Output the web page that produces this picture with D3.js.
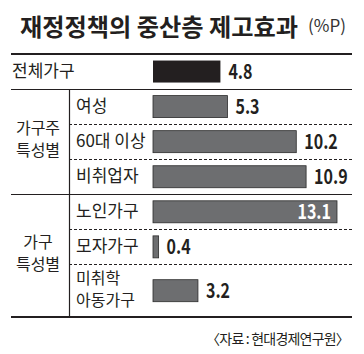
<html>
<head>
<script src="https://d3js.org/d3.v7.min.js"></script>
<style>
  body { margin: 0; background: #fff; }
  text { font-family: "Noto Sans CJK KR", "Noto Sans", sans-serif; }
</style>
</head>
<body>
<div id="chart"></div>
<script>
// data
const rows = ["전체가구", "여성", "60대 이상", "비취업자", "노인가구", "모자가구", "미취학\n아동가구"];
const values = [4.8, 5.3, 10.2, 10.9, 13.1, 0.4, 3.2];
const groups = [null, "가구주\n특성별", "가구주\n특성별", "가구주\n특성별", "가구\n특성별", "가구\n특성별", "가구\n특성별"];

const width = 364, height = 354;
const svg = d3.create("svg").attr("width", width).attr("height", height);

// title
svg.append("text").attr("x", 20).attr("y", 36)
  .attr("font-size", 24.2).attr("font-weight", "bold").attr("fill", "#231f20")
  .text("재정정책의 중산층 제고효과");
svg.append("text").attr("x", 308).attr("y", 32)
  .attr("font-family", "'Liberation Sans', Arial, sans-serif")
  .attr("font-size", 17).attr("fill", "#333")
  .text("(%P)");

// row layout: two-line labels take a bit more room
const weight = rows.map(r => r.includes("\n") ? 1.5 : 1);
const starts = [];
weight.reduce((acc, w) => { starts.push(acc); return acc + w; }, 0);
const total = d3.sum(weight);
const y = d3.scaleLinear().domain([0, total]).range([54, 317]);
const x = d3.scaleLinear().domain([0, 13.1]).range([153, 337]);
const barH = 22;

const rowData = rows.map((r, i) => ({
  label: r, value: values[i], group: groups[i],
  top: y(starts[i]), bottom: y(starts[i] + weight[i]),
  mid: (y(starts[i]) + y(starts[i] + weight[i])) / 2
}));

// separator lines
const g = svg.append("g");
rowData.forEach((d, i) => {
  if (i === 0) return;
  const sameGroup = d.group && d.group === rowData[i - 1].group;
  g.append("line")
    .attr("x1", sameGroup ? 69 : 11).attr("x2", 352)
    .attr("y1", Math.round(d.top) + 0.5).attr("y2", Math.round(d.top) + 0.5)
    .attr("stroke", "#231f20").attr("stroke-width", 1)
    .attr("stroke-dasharray", sameGroup ? "3,2" : null);
});
g.append("line").attr("x1", 11).attr("x2", 352).attr("y1", 54).attr("y2", 54)
  .attr("stroke", "#231f20").attr("stroke-width", 2.2);
g.append("line").attr("x1", 11).attr("x2", 352).attr("y1", 317).attr("y2", 317)
  .attr("stroke", "#231f20").attr("stroke-width", 2.2);
g.append("line").attr("x1", 69.5).attr("x2", 69.5)
  .attr("y1", rowData[1].top).attr("y2", 317)
  .attr("stroke", "#231f20").attr("stroke-width", 1.2);

// bars
svg.append("g").selectAll("rect").data(rowData).join("rect")
  .attr("x", x(0))
  .attr("y", d => d.mid - barH / 2)
  .attr("width", d => Math.max(x(d.value) - x(0), 3))
  .attr("height", barH)
  .attr("fill", (d, i) => i === 0 ? "#231f20" : "#6d6e70")
  .attr("stroke", (d, i) => i === 0 ? "none" : "#2b2b2b")
  .attr("stroke-width", 0.8);

// values (narrow bold digits)
svg.append("g").selectAll("text").data(rowData).join("text")
  .attr("font-family", "'Liberation Sans', Arial, sans-serif")
  .attr("font-weight", "bold").attr("font-size", 20)
  .attr("dy", "0.36em")
  .attr("transform", d => {
    const tx = d.value > 12 ? x(d.value) - 6 : Math.max(x(d.value), x(0) + 3) + 8;
    return `translate(${tx},${d.mid}) scale(0.8,1)`;
  })
  .attr("text-anchor", d => d.value > 12 ? "end" : "start")
  .attr("fill", d => d.value > 12 ? "#fff" : "#231f20")
  .text(d => d.value);

// row labels
const lab = svg.append("g");
rowData.forEach((d, i) => {
  const lines = d.label.split("\n");
  const lx = i === 0 ? 12 : 76;
  lines.forEach((l, j) => {
    lab.append("text").attr("x", lx)
      .attr("y", d.mid - 1 + (j - (lines.length - 1) / 2) * 22)
      .attr("dy", "0.36em").attr("font-size", lines.length > 1 ? 16 : 17).attr("fill", "#231f20")
      .text(l);
  });
});

// group labels
const grp = d3.groups(rowData.filter(d => d.group), d => d.group);
grp.forEach(([name, items]) => {
  const top = items[0].top, bottom = items[items.length - 1].bottom;
  const mid = (top + bottom) / 2;
  const lines = name.split("\n");
  lines.forEach((l, j) => {
    svg.append("text").attr("x", 38).attr("text-anchor", "middle")
      .attr("y", mid - 2 + (j - (lines.length - 1) / 2) * 22)
      .attr("dy", "0.36em").attr("font-size", 16).attr("fill", "#231f20")
      .text(l);
  });
});

// source
svg.append("text").attr("x", 349).attr("y", 344).attr("text-anchor", "end")
  .attr("font-size", 14).attr("letter-spacing", -0.8).attr("fill", "#231f20")
  .text("〈자료 : 현대경제연구원〉");

document.getElementById("chart").appendChild(svg.node());
</script>
</body>
</html>
